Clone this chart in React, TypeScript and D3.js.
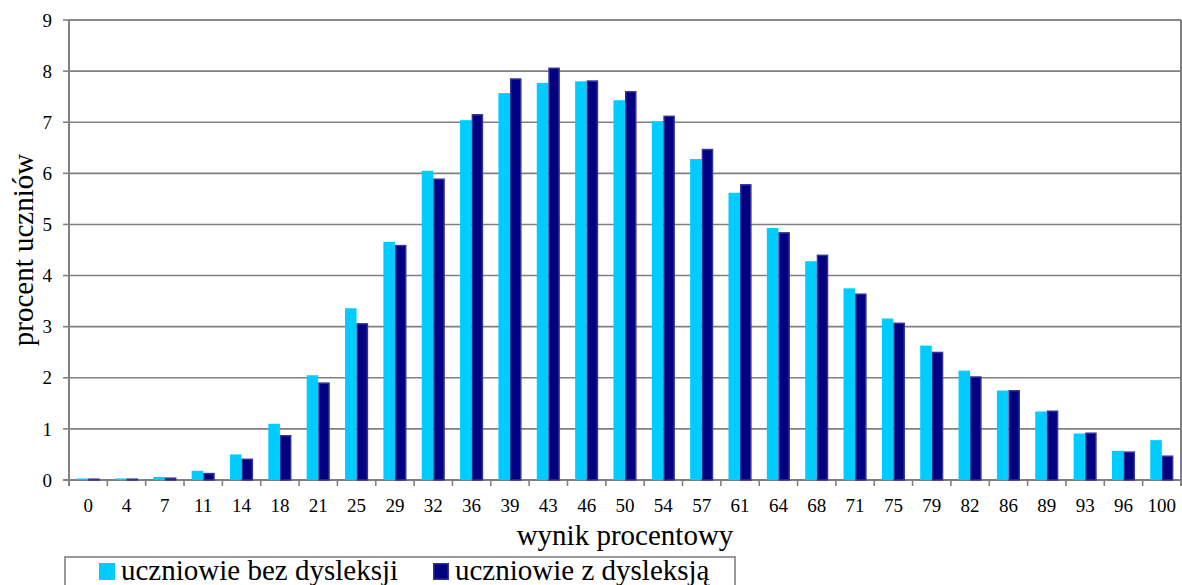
import React from "react";
import * as d3 from "d3";

const categories = ["0","4","7","11","14","18","21","25","29","32","36","39","43","46","50","54","57","61","64","68","71","75","79","82","86","89","93","96","100"];
const bezDysleksji = [0.03,0.03,0.06,0.18,0.50,1.10,2.05,3.36,4.66,6.05,7.04,7.57,7.77,7.80,7.43,7.02,6.28,5.62,4.93,4.28,3.75,3.16,2.63,2.14,1.75,1.34,0.91,0.57,0.78];
const zDysleksja = [0.03,0.03,0.05,0.14,0.42,0.88,1.91,3.07,4.60,5.90,7.16,7.86,8.07,7.82,7.61,7.13,6.48,5.79,4.85,4.41,3.65,3.08,2.51,2.03,1.76,1.36,0.93,0.56,0.48];
const yTicks = [0,1,2,3,4,5,6,7,8,9];
const seriesNames = ["uczniowie bez dysleksji", "uczniowie z dysleksją"];
const seriesColors = ["#00CCFF", "#000080"];

export default function App() {
  const W = 1182, H = 585;
  const left = 69, right = 1181, top = 20, bottom = 480;
  const font = "'Liberation Serif', 'Times New Roman', serif";
  const x0 = d3.scaleBand<string>().domain(categories).range([left, right]).paddingInner(0).paddingOuter(0);
  const x1 = d3.scaleBand<string>().domain(["a", "b"]).range([0, x0.bandwidth()]).paddingInner(0).paddingOuter(0.66);
  const y = d3.scaleLinear().domain([0, 9]).range([bottom, top]);
  const grid = "#808080";

  return (
    <svg width={W} height={H} style={{ position: "absolute", left: 0, top: 0, background: "#fff" }} fontFamily={font}>
      {yTicks.map(t => (
        <g key={t}>
          {t > 0 && <line x1={left} x2={right} y1={y(t)} y2={y(t)} stroke={grid} strokeWidth={1.6} />}
          <line x1={left - 6} x2={left} y1={y(t)} y2={y(t)} stroke={grid} strokeWidth={1.6} />
          <text x={52} y={y(t)} dy="0.35em" textAnchor="end" fontSize={19} fill="#000">{t}</text>
        </g>
      ))}
      {/* plot border */}
      <line x1={left} x2={right} y1={top} y2={top} stroke={grid} strokeWidth={1.6} />
      <line x1={right} x2={right} y1={top} y2={bottom + 6} stroke={grid} strokeWidth={2} />
      <line x1={left} x2={left} y1={top} y2={bottom + 6} stroke={grid} strokeWidth={2} />
      <line x1={left - 6} x2={right} y1={bottom} y2={bottom} stroke={grid} strokeWidth={2} />
      {categories.map((c) => (
        <g key={"t" + c}>
          <line x1={x0(c)!} x2={x0(c)!} y1={bottom} y2={bottom + 6} stroke={grid} strokeWidth={1.6} />
          <text x={x0(c)! + x0.bandwidth() / 2} y={512} textAnchor="middle" fontSize={19} fill="#000">{c}</text>
        </g>
      ))}
      {categories.map((c, i) => {
        const bx = x0(c)!;
        const v1 = bezDysleksji[i], v2 = zDysleksja[i];
        const w = x1.bandwidth();
        return (
          <g key={c}>
            <rect x={bx + x1("a")!} y={y(v1)} width={w} height={bottom - y(v1)} fill={seriesColors[0]} />
            <rect x={bx + x1("b")! + 0.75} y={y(v2) + 0.75} width={w - 1.5} height={Math.max(0.5, bottom - y(v2) - 0.75)} fill={seriesColors[1]} stroke="#333399" strokeWidth={1.5} />
          </g>
        );
      })}
      {/* axis titles */}
      <text x={(left + right) / 2} y={545} textAnchor="middle" fontSize={29} fill="#000">wynik procentowy</text>
      <text transform={`translate(33, ${(top + bottom) / 2}) rotate(-90)`} textAnchor="middle" fontSize={29} fill="#000">procent uczniów</text>
      {/* legend */}
      <rect x={65} y={557} width={670} height={40} fill="#fff" stroke={grid} strokeWidth={1.6} />
      <rect x={99} y={563} width={16} height={17} fill={seriesColors[0]} />
      <text x={121} y={580} fontSize={29} fill="#000">{seriesNames[0]}</text>
      <rect x={433.75} y={563.75} width={14.5} height={15.5} fill={seriesColors[1]} stroke="#333399" strokeWidth={1.5} />
      <text x={455} y={580} fontSize={29} fill="#000">{seriesNames[1]}</text>
    </svg>
  );
}
